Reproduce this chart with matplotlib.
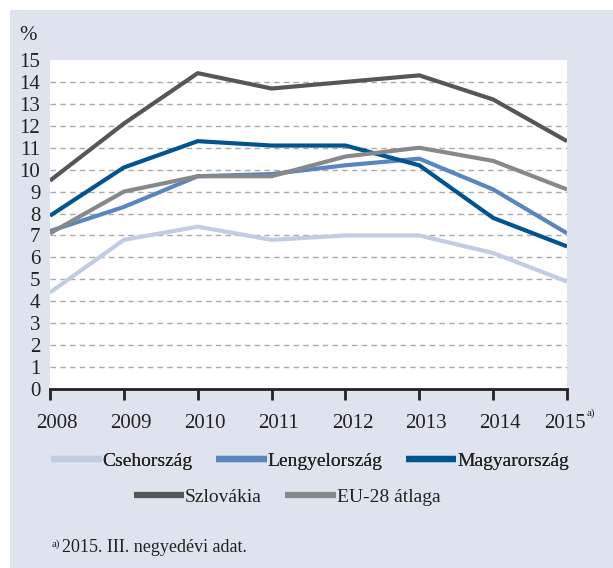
import matplotlib
matplotlib.use("Agg")
import matplotlib.pyplot as plt
from matplotlib.patches import Rectangle
from matplotlib.transforms import ScaledTranslation

years = [2008, 2009, 2010, 2011, 2012, 2013, 2014, 2015]
year_labels = ["2008", "2009", "2010", "2011", "2012", "2013", "2014", "2015"]
cseh = [4.4, 6.8, 7.4, 6.8, 7.0, 7.0, 6.2, 4.9]
lengyel = [7.2, 8.3, 9.7, 9.8, 10.2, 10.5, 9.1, 7.1]
magyar = [7.9, 10.1, 11.3, 11.1, 11.1, 10.2, 7.8, 6.5]
szlovak = [9.5, 12.1, 14.4, 13.7, 14.0, 14.3, 13.2, 11.3]
eu28 = [7.1, 9.0, 9.7, 9.7, 10.6, 11.0, 10.4, 9.1]
names = ["Csehország", "Lengyelország", "Magyarország", "Szlovákia", "EU-28 átlaga"]
colors = ["#c2cde4", "#5a86bf", "#00548f", "#555658", "#87888a"]

plt.rcParams['font.family'] = ['Liberation Serif', 'DejaVu Serif']
FS = 15
LFS = 14
TXT = "#222222"

W, H = 613, 568
fig = plt.figure(figsize=(W / 100, H / 100), dpi=100)
fig.patch.set_facecolor("white")
fig.patches.append(Rectangle((10 / W, 0), 1, 1 - 10 / H, transform=fig.transFigure,
                             facecolor="#dee3ee", edgecolor="none", zorder=-10))

ax = fig.add_axes([50 / W, 1 - 389 / H, (567 - 50) / W, (389 - 60) / H])
ax.set_facecolor("white")

series = [cseh, lengyel, magyar, szlovak, eu28]
order = [0, 1, 2, 4, 3]
handles = {}
for i in order:
    ln, = ax.plot(years, series[i], color=colors[i], lw=3.0, solid_capstyle="butt",
                  solid_joinstyle="round", zorder=3 + i)
    handles[i] = ln

ax.set_xlim(2008, 2015)
ax.set_ylim(0, 15)
ax.set_yticks(range(0, 16))
for y in range(1, 15):
    ax.axhline(y, color="#aaaaaa", lw=1.0, ls=(0, (4, 3)), zorder=1)

for s in ["top", "right", "left"]:
    ax.spines[s].set_visible(False)
ax.spines["bottom"].set_linewidth(2.0)
ax.spines["bottom"].set_color(TXT)
ax.tick_params(axis="y", length=0, labelsize=FS, pad=7, colors=TXT)
ax.tick_params(axis="x", length=8, width=2.0, direction="out", labelsize=FS,
               pad=10, colors=TXT)
ax.set_xticks(years)
ax.set_xticklabels(year_labels)
labs = ax.get_xticklabels()
for k, lab in enumerate(labs):
    dx = 7 if k < len(labs) - 1 else -2
    lab.set_transform(lab.get_transform() + ScaledTranslation(dx / 100, 0, fig.dpi_scale_trans))

fig.text(28 / W, 1 - 36 / H, "%", fontsize=FS, ha="center", va="center", color=TXT)
fig.text(587 / W, 1 - 413 / H, "a)", fontsize=8, ha="left", va="center", color=TXT)

leg1 = fig.legend([handles[0], handles[1], handles[2]], names[:3], loc="center",
                  bbox_to_anchor=(310 / W, 1 - 461 / H), ncol=3, frameon=False,
                  fontsize=LFS, handlelength=2.6, handletextpad=0.05, columnspacing=1.2,
                  borderaxespad=0)
leg2 = fig.legend([handles[3], handles[4]], names[3:], loc="center",
                  bbox_to_anchor=(287 / W, 1 - 497 / H), ncol=2, frameon=False,
                  fontsize=LFS, handlelength=2.6, handletextpad=0.05, columnspacing=1.2,
                  borderaxespad=0)
fig.add_artist(leg1)
for leg in (leg1, leg2):
    for l in leg.get_lines():
        l.set_linewidth(4.5)
    for t in leg.get_texts():
        t.set_color(TXT)

fig.text(52 / W, 1 - 544 / H, "a)", fontsize=8, ha="left", va="center", color=TXT)
fig.text(62 / W, 1 - 548 / H, "2015. III. negyedévi adat.", fontsize=13, ha="left",
         va="center", color=TXT)

fig.savefig("out.png", dpi=100)
